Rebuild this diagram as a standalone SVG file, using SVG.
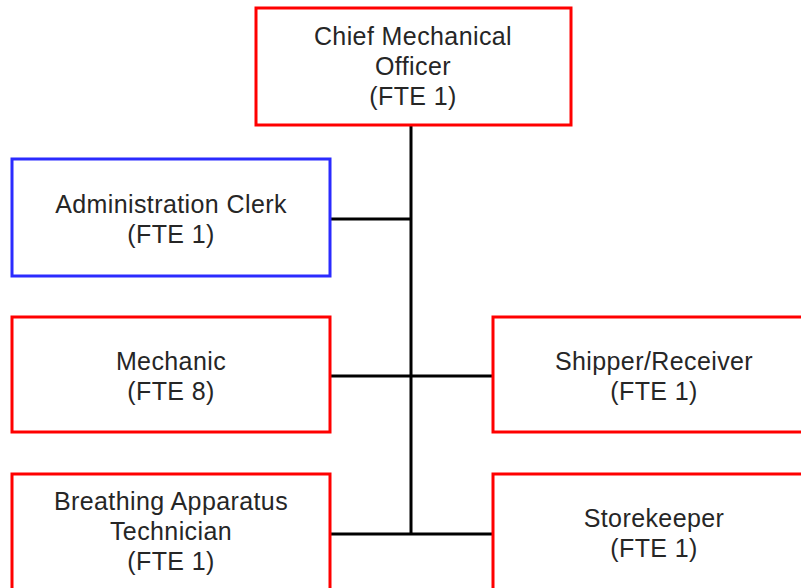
<svg xmlns="http://www.w3.org/2000/svg" width="801" height="588" viewBox="0 0 801 588">
<style>
.box{fill:#fff;stroke:#ff0000;stroke-width:3}
.blue{stroke:#2b2bff}
.t{font-family:"Liberation Sans",Arial,sans-serif;font-size:25px;fill:#262626;text-anchor:middle;letter-spacing:0.4px}
.c{stroke:#000;stroke-width:3;fill:none}
</style>
<rect width="801" height="588" fill="#fff"/>
<g id="connectors">
<line class="c" x1="411" y1="125" x2="411" y2="534"/>
<line class="c" x1="330" y1="219" x2="411" y2="219"/>
<line class="c" x1="330" y1="376" x2="493" y2="376"/>
<line class="c" x1="330" y1="534" x2="493" y2="534"/>
</g>
<g id="chief">
<rect class="box" x="256" y="8" width="315" height="117"/>
<text class="t"><tspan x="413" y="45">Chief Mechanical</tspan><tspan x="413" y="75">Officer</tspan><tspan x="413" y="105">(FTE 1)</tspan></text>
</g>
<g id="admin">
<rect class="box blue" x="12" y="159" width="318" height="117"/>
<text class="t"><tspan x="171" y="213">Administration Clerk</tspan><tspan x="171" y="243">(FTE 1)</tspan></text>
</g>
<g id="mechanic">
<rect class="box" x="12" y="317" width="318" height="115"/>
<text class="t"><tspan x="171" y="370">Mechanic</tspan><tspan x="171" y="400">(FTE 8)</tspan></text>
</g>
<g id="shipper">
<rect class="box" x="493" y="317" width="330" height="115"/>
<text class="t"><tspan x="654" y="370">Shipper/Receiver</tspan><tspan x="654" y="400">(FTE 1)</tspan></text>
</g>
<g id="breathing">
<rect class="box" x="12" y="474" width="318" height="130"/>
<text class="t"><tspan x="171" y="510">Breathing Apparatus</tspan><tspan x="171" y="540">Technician</tspan><tspan x="171" y="570">(FTE 1)</tspan></text>
</g>
<g id="storekeeper">
<rect class="box" x="493" y="474" width="330" height="130"/>
<text class="t"><tspan x="654" y="527">Storekeeper</tspan><tspan x="654" y="557">(FTE 1)</tspan></text>
</g>
</svg>
